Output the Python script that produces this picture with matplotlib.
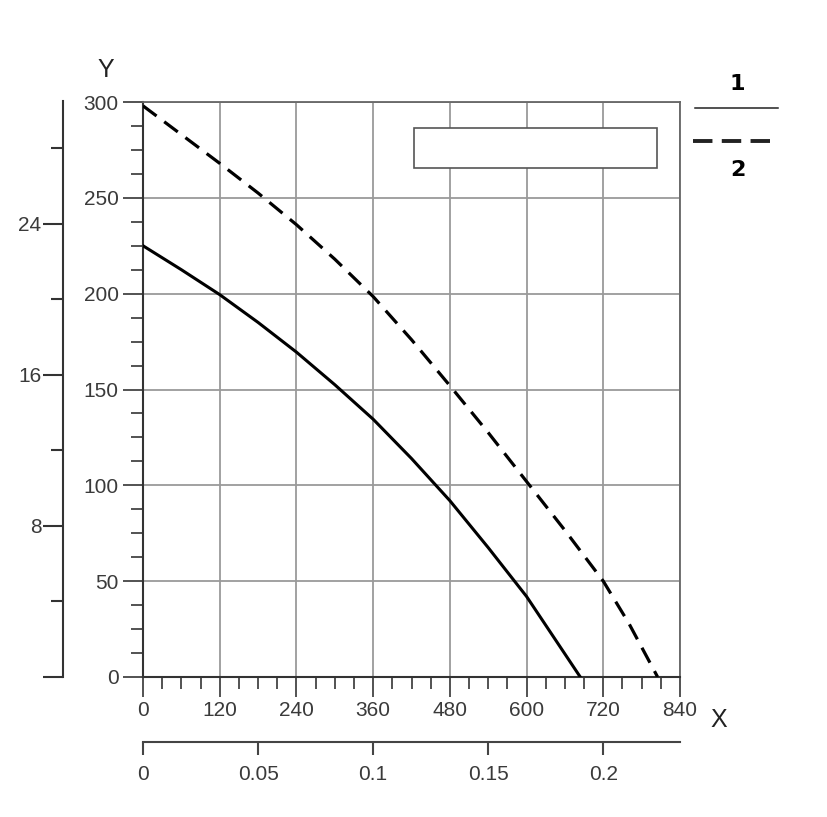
import matplotlib
matplotlib.use("Agg")
import matplotlib.pyplot as plt
from matplotlib.lines import Line2D
from matplotlib.patches import Rectangle
from matplotlib.ticker import MultipleLocator, FixedLocator

plt.rcParams['font.family'] = ['Liberation Sans', 'DejaVu Sans']

# ---- data ----
x_solid = [0, 60, 120, 180, 240, 300, 360, 420, 480, 540, 600, 640, 684]
y_solid = [225, 212.5, 199.5, 185, 169.5, 152.5, 134.5, 114, 92, 67.5, 42, 22, 0]

x_dash = [0, 60, 120, 180, 240, 300, 360, 420, 480, 540, 600, 660, 720, 760, 805]
y_dash = [298, 283, 268, 252.5, 236, 218, 198.5, 176, 152, 127.5, 102, 76.5, 50, 28, 0]

x_ticks = [0, 120, 240, 360, 480, 600, 720, 840]
y_ticks = [0, 50, 100, 150, 200, 250, 300]
left_ticks = [0, 8, 16, 24]
left_labels = ['', '8', '16', '24']
bottom_ticks = [0, 0.05, 0.1, 0.15, 0.2]
bottom_labels = ['0', '0.05', '0.1', '0.15', '0.2']

W, H = 828, 817
fig = plt.figure(figsize=(W / 100, H / 100), dpi=100)

def fx(px):
    return px / W

def fy(py):
    return 1 - py / H

tcol = '#3a3a3a'
fs = 15

# ---- main axes ----
ax = fig.add_axes([fx(143), fy(677), fx(680) - fx(143), fy(102) - fy(677)])
ax.plot(x_solid, y_solid, color='black', lw=2.2, solid_joinstyle='round', zorder=3)
ax.plot(x_dash, y_dash, color='black', lw=2.3, linestyle=(0, (5.3, 3.0)), zorder=3)
ax.set_xlim(0, 840)
ax.set_ylim(0, 300)
ax.xaxis.set_major_locator(FixedLocator(x_ticks))
ax.yaxis.set_major_locator(FixedLocator(y_ticks))
ax.xaxis.set_minor_locator(MultipleLocator(30))
ax.yaxis.set_minor_locator(MultipleLocator(12.5))
ax.set_xticklabels([str(v) for v in x_ticks])
ax.set_yticklabels([str(v) for v in y_ticks])
ax.tick_params(which='major', direction='out', length=14.4, width=1.3, color='#444444',
               labelsize=fs, labelcolor=tcol, pad=3)
ax.tick_params(which='minor', direction='out', length=8.6, width=1.3, color='#444444')
ax.grid(True, which='major', color='#9a9a9a', lw=1.3, zorder=0)
for side in ['left', 'bottom']:
    ax.spines[side].set_color('#333333')
    ax.spines[side].set_linewidth(1.5)
for side in ['top', 'right']:
    ax.spines[side].set_color('#666666')
    ax.spines[side].set_linewidth(1.3)

ax.add_patch(Rectangle((0.5047, 0.885), 0.957 - 0.5047, 0.9548 - 0.885,
                       transform=ax.transAxes, facecolor='white',
                       edgecolor='#555555', lw=1.2, zorder=2))

# ---- left secondary axis ----
axl = fig.add_axes([fx(63), fy(677), 0.0005, fy(101) - fy(677)])
axl.set_ylim(0, 30.5)
for side in ['top', 'right', 'bottom']:
    axl.spines[side].set_visible(False)
axl.spines['left'].set_color('#333333')
axl.spines['left'].set_linewidth(1.5)
axl.set_xticks([])
axl.yaxis.set_major_locator(FixedLocator(left_ticks))
axl.set_yticklabels(left_labels)
axl.yaxis.set_minor_locator(FixedLocator([4, 12, 20, 28]))
axl.tick_params(which='major', direction='out', length=14.4, width=1.5, color='#333333',
                labelsize=fs, labelcolor=tcol, pad=1)
axl.tick_params(which='minor', direction='out', length=8.6, width=1.5, color='#333333')
axl.patch.set_visible(False)

# ---- bottom secondary axis ----
axb = fig.add_axes([fx(143), fy(742), fx(680) - fx(143), 0.0005])
axb.set_xlim(0, 840 / 3600)
for side in ['top', 'right', 'left']:
    axb.spines[side].set_visible(False)
axb.spines['bottom'].set_color('#444444')
axb.spines['bottom'].set_linewidth(1.5)
axb.set_yticks([])
axb.xaxis.set_major_locator(FixedLocator(bottom_ticks))
axb.set_xticklabels(bottom_labels)
axb.tick_params(which='major', direction='out', length=9.4, width=1.5, color='#444444',
                labelsize=fs, labelcolor=tcol, pad=7)
axb.patch.set_visible(False)

# ---- axis letters ----
fig.text(fx(106), fy(70), 'Y', fontsize=18, color='#222222', ha='center', va='center')
fig.text(fx(719), fy(720), 'X', fontsize=18, color='#222222', ha='center', va='center')

# ---- legend on the right ----
fig.add_artist(Line2D([fx(695), fx(778)], [fy(108), fy(108)], color='#222222', lw=1.1))
fig.add_artist(Line2D([fx(693), fx(778)], [fy(141), fy(141)], color='#222222', lw=2.8,
                      linestyle=(0, (5.0, 2.4))))
fig.text(fx(737), fy(84), '1', fontsize=16, color='black', ha='center', va='center',
         family=['DejaVu Sans'], fontweight='bold')
fig.text(fx(738), fy(170), '2', fontsize=16, color='black', ha='center', va='center',
         family=['DejaVu Sans'], fontweight='bold')

fig.savefig('out.png', dpi=100, facecolor='white')
